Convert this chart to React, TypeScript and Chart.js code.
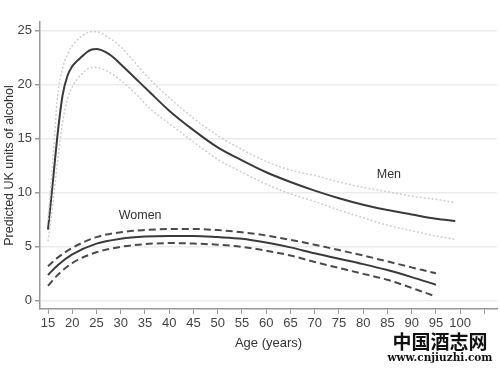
import React, { useEffect, useRef } from "react";
import { Chart, registerables } from "chart.js";

Chart.register(...registerables);

const menAges = [15, 16, 17, 18, 19, 20, 21, 22, 23, 24, 25, 26, 27, 28, 30, 33, 36, 40, 45, 50, 55, 60, 65, 70, 75, 80, 85, 90, 95, 99];
const menFit = [6.6, 11, 15.5, 19, 20.8, 21.7, 22.2, 22.6, 23.0, 23.25, 23.3, 23.2, 23.0, 22.7, 21.9, 20.6, 19.3, 17.6, 15.8, 14.2, 13.0, 11.9, 11.0, 10.2, 9.5, 8.9, 8.4, 8.0, 7.6, 7.4];

const menCiAges = [15, 16, 17, 18, 19, 20, 22, 24, 25, 27, 30, 33, 36, 40, 45, 50, 55, 60, 65, 70, 75, 80, 85, 90, 95, 99];
const menUpper = [7.5, 13, 19.0, 21.5, 22.8, 23.6, 24.5, 24.9, 24.9, 24.5, 23.5, 22.0, 20.5, 18.8, 16.9, 15.3, 14.0, 12.9, 12.1, 11.6, 11.0, 10.5, 10.1, 9.7, 9.4, 9.1];
const menLower = [5.5, 9, 13, 16.5, 18.6, 19.8, 21.0, 21.6, 21.6, 21.3, 20.4, 19.2, 17.8, 16.4, 14.7, 13.1, 11.9, 10.8, 9.9, 9.2, 8.4, 7.7, 7.0, 6.5, 6.0, 5.7];

const womenAges = [15, 17, 20, 25, 30, 35, 40, 45, 50, 55, 60, 65, 70, 75, 80, 85, 90, 95];
const womenFit = [2.4, 3.3, 4.3, 5.3, 5.75, 5.95, 6.0, 6.0, 5.9, 5.75, 5.4, 4.95, 4.4, 3.9, 3.4, 2.85, 2.2, 1.5];
const womenUpper = [3.2, 4.0, 4.9, 5.9, 6.35, 6.55, 6.65, 6.65, 6.55, 6.35, 6.05, 5.65, 5.2, 4.7, 4.2, 3.65, 3.1, 2.55];
const womenLower = [1.4, 2.4, 3.5, 4.5, 5.0, 5.25, 5.35, 5.3, 5.2, 5.0, 4.65, 4.2, 3.6, 3.05, 2.5, 1.95, 1.2, 0.4];

const xTicks = [15, 20, 25, 30, 35, 40, 45, 50, 55, 60, 65, 70, 75, 80, 85, 90, 95, 100, 105];
const xTickLabels = ["15", "20", "25", "30", "35", "40", "45", "50", "55", "60", "65", "70", "75", "80", "85", "90", "95", "100", ""];
const yTicks = [0, 5, 10, 15, 20, 25];

const seriesLabels = [
  { text: "Men", x: 85.3, y: 11.7 },
  { text: "Women", x: 34, y: 7.85 },
];

const pts = (xs: number[], ys: number[]) => xs.map((x, i) => ({ x, y: ys[i] }));

const FONT = "'Liberation Sans', Arial, sans-serif";

export default function App() {
  const ref = useRef<HTMLCanvasElement | null>(null);
  useEffect(() => {
    document.body.style.margin = "0";
    const canvas = ref.current!;
    const labelPlugin = {
      id: "labels",
      afterDatasetsDraw(chart: any) {
        const ctx = chart.ctx;
        const xs = chart.scales.x;
        const ys = chart.scales.y;
        ctx.save();
        ctx.fillStyle = "#333";
        ctx.font = `12.5px ${FONT}`;
        ctx.textAlign = "center";
        ctx.textBaseline = "middle";
        for (const l of seriesLabels) {
          ctx.fillText(l.text, xs.getPixelForValue(l.x), ys.getPixelForValue(l.y));
        }
        ctx.restore();
      },
      afterDraw(chart: any) {
        const ctx = chart.ctx;
        ctx.save();
        ctx.fillStyle = "#111";
        ctx.textAlign = "center";
        ctx.textBaseline = "middle";
        ctx.font = "bold 19px 'Noto Sans CJK SC'";
        ctx.fillText("中国酒志网", 440, 342);
        ctx.font = "bold 10.5px 'DejaVu Serif', serif";
        ctx.fillText("www.cnjiuzhi.com", 440, 358);
        ctx.restore();
      },
    };
    const chart = new Chart(canvas, {
      type: "line",
      data: {
        datasets: [
          { label: "Men upper", data: pts(menCiAges, menUpper), borderColor: "#cfcfcf", borderWidth: 1.5, borderDash: [2, 2] },
          { label: "Men lower", data: pts(menCiAges, menLower), borderColor: "#cfcfcf", borderWidth: 1.5, borderDash: [2, 2] },
          { label: "Men", data: pts(menAges, menFit), borderColor: "#3a3a3a", borderWidth: 2 },
          { label: "Women upper", data: pts(womenAges, womenUpper), borderColor: "#4a4a4a", borderWidth: 2, borderDash: [7, 4] },
          { label: "Women lower", data: pts(womenAges, womenLower), borderColor: "#4a4a4a", borderWidth: 2, borderDash: [7, 4] },
          { label: "Women", data: pts(womenAges, womenFit), borderColor: "#3a3a3a", borderWidth: 2 },
        ] as any,
      },
      plugins: [labelPlugin],
      options: {
        animation: false,
        responsive: false,
        devicePixelRatio: 1,
        layout: { padding: { left: 0, right: 3, top: 22, bottom: 0 } },
        elements: {
          point: { radius: 0 },
          line: { cubicInterpolationMode: "monotone", fill: false },
        },
        plugins: { legend: { display: false }, tooltip: { enabled: false } },
        scales: {
          x: {
            type: "linear",
            min: 13.35,
            max: 107.6,
            afterBuildTicks: (s: any) => {
              s.ticks = xTicks.map((v) => ({ value: v }));
            },
            afterFit: (s: any) => {
              s.height = 60;
            },
            ticks: {
              autoSkip: false,
              maxRotation: 0,
              color: "#444",
              font: { family: FONT, size: 13 },
              padding: 2,
              callback: (v: any) => {
                const i = xTicks.indexOf(Number(v));
                return i >= 0 ? xTickLabels[i] : "";
              },
            },
            grid: { drawOnChartArea: false, drawTicks: true, tickLength: 5, color: "#999", lineWidth: 1 },
            border: { color: "#999", width: 1.5 },
            title: {
              display: true,
              text: "Age (years)",
              color: "#333",
              font: { family: FONT, size: 13 },
              padding: { top: 0, bottom: 18 },
            },
          },
          y: {
            type: "linear",
            min: -0.75,
            max: 25.8,
            afterBuildTicks: (s: any) => {
              s.ticks = yTicks.map((v) => ({ value: v }));
            },
            afterFit: (s: any) => {
              s.width = 40;
            },
            ticks: {
              color: "#444",
              font: { family: FONT, size: 13 },
              padding: 3,
            },
            grid: { color: "#ececec", lineWidth: 1.5, tickColor: "#999", tickLength: 5 },
            border: { color: "#999", width: 1.5 },
            title: {
              display: true,
              text: "Predicted UK units of alcohol",
              color: "#333",
              font: { family: FONT, size: 12.5 },
              padding: { top: 2, bottom: 0 },
            },
          },
        },
      } as any,
    });
    return () => chart.destroy();
  }, []);
  return (
    <div style={{ width: 500, height: 369, background: "#fff" }}>
      <canvas ref={ref} width={500} height={369} style={{ display: "block" }} />
    </div>
  );
}
